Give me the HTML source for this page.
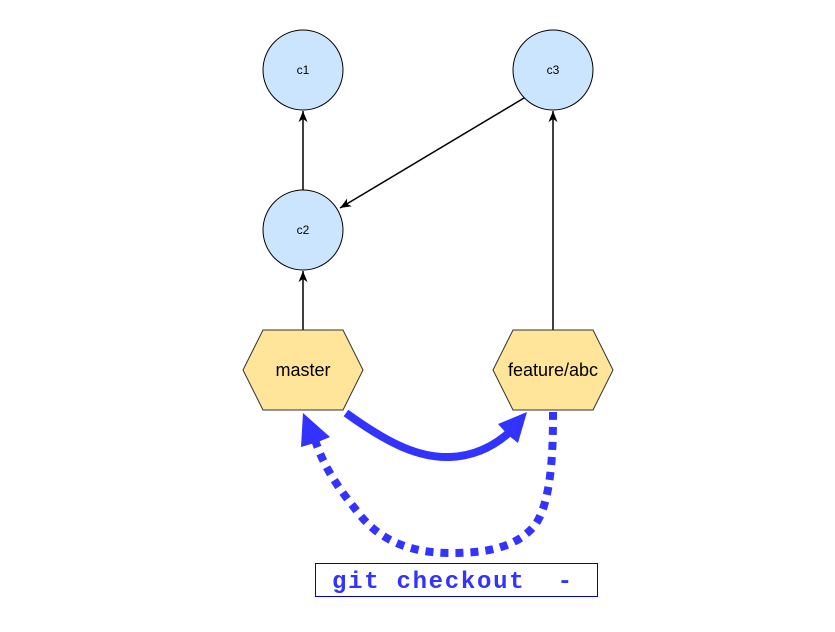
<!DOCTYPE html>
<html><head><meta charset="utf-8"><style>
html,body{margin:0;padding:0;background:#fff;}
svg{display:block;}
</style></head><body>
<svg width="835" height="632" viewBox="0 0 835 632" xmlns="http://www.w3.org/2000/svg">
<defs>
<marker id="ah" markerWidth="12" markerHeight="12" refX="11" refY="6" orient="auto" markerUnits="userSpaceOnUse">
<path d="M0,1.5 L11,6 L0,10.5 L3,6 Z" fill="#000"/>
</marker>
</defs>
<g font-family="Liberation Sans, sans-serif" font-size="12" text-anchor="middle">
<circle cx="303" cy="70" r="40" fill="#cce5ff" stroke="#000"/>
<text x="303" y="74">c1</text>
<circle cx="553" cy="70" r="40" fill="#cce5ff" stroke="#000"/>
<text x="553" y="74">c3</text>
<circle cx="303" cy="230" r="40" fill="#cce5ff" stroke="#000"/>
<text x="303" y="234">c2</text>
</g>
<g stroke="#000" stroke-width="1.5" fill="none">
<line x1="303" y1="190" x2="303" y2="111" marker-end="url(#ah)"/>
<line x1="303" y1="330" x2="303" y2="271" marker-end="url(#ah)"/>
<line x1="553" y1="330" x2="553" y2="111" marker-end="url(#ah)"/>
<line x1="524" y1="98" x2="340" y2="208" marker-end="url(#ah)"/>
</g>
<polygon points="243,370 263,330 343,330 363,370 343,410 263,410" fill="#ffe599" stroke="#333"/>
<polygon points="493,370 513,330 593,330 613,370 593,410 513,410" fill="#ffe599" stroke="#333"/>
<g font-family="Liberation Sans, sans-serif" font-size="18" text-anchor="middle">
<text x="303" y="376">master</text>
<text x="553" y="376">feature/abc</text>
</g>
<path d="M346,413 C390,445 420,458 450,457 C475,456 495,446 512,430" fill="none" stroke="#3333ff" stroke-width="8"/>
<polygon points="527,412 518,443 508,435 498,424" fill="#3333ff"/>
<path d="M553,412 C553,440 553,500 535,525 C515,550 480,553 450,553 C410,553 380,540 360,515 C340,490 325,470 315,440" fill="none" stroke="#3333ff" stroke-width="8" stroke-dasharray="8,7"/>
<polygon points="303,413 330,437 318,442 301,447" fill="#3333ff"/>
<rect x="315.5" y="563.5" width="282" height="33" fill="#fff" stroke="#0000cc"/>
<text x="332" y="588" font-family="Liberation Mono, monospace" font-weight="bold" font-size="24" fill="#3333ff" xml:space="preserve" textLength="240" lengthAdjust="spacing">git checkout  -</text>
</svg>
</body></html>
